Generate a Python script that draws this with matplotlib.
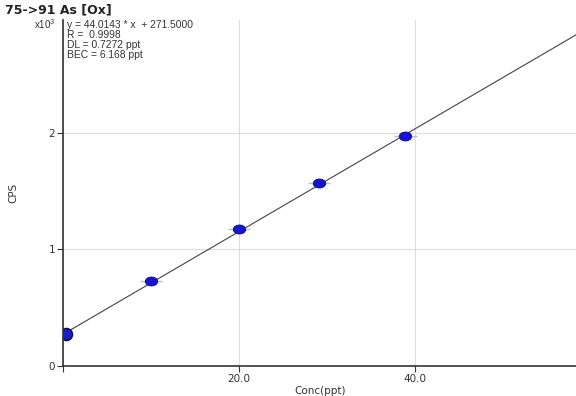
import matplotlib
matplotlib.use("Agg")
import matplotlib.pyplot as plt
from matplotlib.path import Path
import numpy as np

# Data
conc = [0.3, 10.0, 20.0, 29.1, 38.9]
cps = [274, 728, 1174, 1565, 1973]
slope = 44.0143
intercept = 271.5
xticks = [0, 20, 40]
xticklabels = ["", "20.0", "40.0"]
yticks = [0, 1000, 2000]
yticklabels = ["0", "1", "2"]

fig = plt.figure(figsize=(5.76, 3.96), dpi=100)
ax = fig.add_axes([63/576, 30/396, 513/576, 346/396])
xmax = 58.3
ax.set_xlim(0, xmax)
ax.set_ylim(0, 2965)

ax.grid(True, color="#dcdcdc", linewidth=0.8)
ax.set_axisbelow(True)

xs = np.array([0, xmax])
ax.plot(xs, slope * xs + intercept, color="#444444", linewidth=0.8, zorder=3)

circ = Path.unit_circle()
ellipse = Path(circ.vertices * np.array([1.0, 0.72]), circ.codes)

ax.errorbar(conc[1:], cps[1:], xerr=1.3, fmt="none", ecolor="#b0bce0",
            elinewidth=1.0, capsize=0, zorder=3.5)
ax.scatter(conc[1:], cps[1:], s=80, marker=ellipse, color="#1414d2",
           edgecolors="#0a0a80", linewidths=0.6, zorder=4)
ax.scatter(conc[:1], cps[:1], s=75, color="#1a1ad0", edgecolors="#111133",
           linewidths=1.1, zorder=4)

for sp in ["top", "right"]:
    ax.spines[sp].set_visible(False)
ax.spines["left"].set_color("#333333")
ax.spines["bottom"].set_color("#333333")
ax.spines["left"].set_linewidth(1.2)
ax.spines["bottom"].set_linewidth(1.2)
ax.spines["left"].set_zorder(5)

ax.set_xticks(xticks)
ax.set_xticklabels(xticklabels)
ax.set_yticks(yticks)
ax.set_yticklabels(yticklabels)
ax.tick_params(axis="both", labelsize=7.5, colors="#333333", length=4, width=0.8, pad=1.5)

ax.set_xlabel("Conc(ppt)", fontsize=7.5, color="#333333")
ax.xaxis.set_label_coords((320 - 63) / 513, -20 / 346)
ax.set_ylabel("CPS", fontsize=7.5, color="#333333", labelpad=22)

fig.text(5/576, 1 - 10/396, "75->91 As [Ox]", fontsize=9, fontweight="bold",
         color="#222222", va="center", ha="left")
fig.text(56/576, 1 - 24/396, "x10$^{3}$", fontsize=7, color="#333333",
         va="center", ha="right", family="Liberation Sans")
lines = ["y = 44.0143 * x  + 271.5000", "R =  0.9998", "DL = 0.7272 ppt", "BEC = 6.168 ppt"]
for i, t in enumerate(lines):
    fig.text(67/576, 1 - (25 + i * 10)/396, t, fontsize=7.4, color="#333333",
             va="center", ha="left", family="Liberation Sans")

fig.savefig("out.png", dpi=100)
